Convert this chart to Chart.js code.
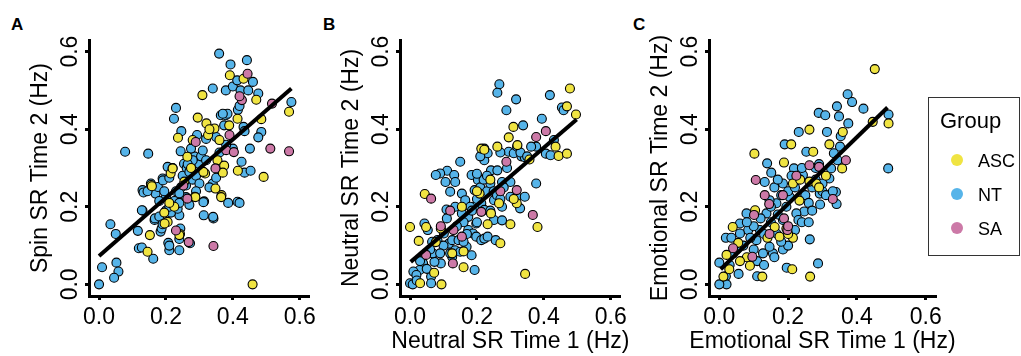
<!DOCTYPE html>
<html>
<head>
<meta charset="utf-8">
<script src="https://cdn.jsdelivr.net/npm/chart.js@4.4.1/dist/chart.umd.min.js"></script>
<style>
  body { margin: 0; background: #fff; width: 1021px; height: 356px; overflow: hidden; position: relative;
         font-family: "Liberation Sans", Arial, Helvetica, sans-serif; color: #000; }
  .panel { position: absolute; top: 0; height: 356px; }
  .tag { position: absolute; top: 16px; font-weight: bold; font-size: 17px; line-height: 17px; }
  #legend { position: absolute; left: 928px; top: 97px; width: 92px; height: 159px; border: 1px solid #333; box-sizing: border-box; }
  #legend .title { position: absolute; left: 11px; top: 10px; font-size: 22px; line-height: 26px; }
  #legend .item { position: absolute; left: 22px; font-size: 18px; line-height: 20px; white-space: nowrap; }
  #legend .dot { display: inline-block; width: 12px; height: 12px; border-radius: 50%; vertical-align: middle; margin-right: 15px; position: relative; top: -2px; }
</style>
</head>
<body>
<div class="tag" style="left:11px">A</div>
<div class="tag" style="left:323px">B</div>
<div class="tag" style="left:633px">C</div>
<div class="panel" style="left:0px"><canvas id="chartA" width="320" height="356"></canvas></div>
<div class="panel" style="left:311px"><canvas id="chartB" width="320" height="356"></canvas></div>
<div class="panel" style="left:620px"><canvas id="chartC" width="350" height="356"></canvas></div>
<div id="legend"></div>
<script>
// ---- groups ----
const groupNames = ['ASC', 'NT', 'SA'];
const groupColors = ['#F0E442', '#56B4E9', '#CC79A7'];
const tickValues = [0, 0.2, 0.4, 0.6];

// ---- panel A: spin SR, [time1, time2] ----
const spinASC = [[0.156,0.256],[0.152,0.127],[0.145,0.084],[0.205,0.161],[0.214,0.286],[0.236,0.378],[0.242,0.13],
  [0.295,0.43],[0.309,0.488],[0.321,0.415],[0.326,0.385],[0.345,0.402],[0.36,0.372],[0.354,0.32],[0.374,0.306],
  [0.37,0.288],[0.366,0.23],[0.348,0.247],[0.317,0.286],[0.286,0.226],[0.28,0.372],[0.391,0.539],[0.432,0.53],
  [0.47,0.476],[0.414,0.427],[0.485,0.426],[0.568,0.445],[0.415,0.293],[0.492,0.277],[0.459,0.0],[0.264,0.329],
  [0.22,0.299],[0.158,0.253],[0.225,0.2],[0.196,0.157],[0.24,0.127],[0.288,0.225],[0.365,0.225],[0.389,0.41],
  [0.33,0.4],[0.275,0.3],[0.255,0.265],[0.21,0.21],[0.195,0.185],[0.312,0.29]];
const spinNT = [[0.0,0.0],[0.009,0.044],[0.034,0.155],[0.05,0.13],[0.052,0.056],[0.058,0.033],[0.045,0.017],
  [0.078,0.342],[0.147,0.337],[0.116,0.138],[0.119,0.093],[0.13,0.19],[0.13,0.243],[0.133,0.237],[0.162,0.066],
  [0.166,0.166],[0.169,0.234],[0.176,0.251],[0.19,0.273],[0.205,0.303],[0.23,0.455],[0.224,0.427],[0.246,0.395],
  [0.24,0.088],[0.21,0.088],[0.207,0.107],[0.243,0.144],[0.24,0.178],[0.272,0.106],[0.184,0.136],[0.187,0.144],
  [0.191,0.268],[0.128,0.191],[0.167,0.17],[0.18,0.175],[0.2,0.19],[0.215,0.185],[0.19,0.155],[0.21,0.2],
  [0.225,0.215],[0.235,0.195],[0.2,0.225],[0.23,0.24],[0.245,0.25],[0.25,0.28],[0.26,0.255],[0.244,0.343],
  [0.254,0.311],[0.262,0.3],[0.27,0.29],[0.28,0.27],[0.29,0.28],[0.3,0.31],[0.293,0.385],[0.285,0.33],
  [0.305,0.33],[0.31,0.345],[0.32,0.32],[0.3,0.26],[0.29,0.24],[0.314,0.214],[0.313,0.178],[0.342,0.17],
  [0.312,0.212],[0.341,0.174],[0.34,0.26],[0.33,0.25],[0.35,0.275],[0.36,0.34],[0.359,0.595],[0.34,0.505],
  [0.379,0.5],[0.393,0.567],[0.4,0.51],[0.413,0.526],[0.423,0.5],[0.442,0.578],[0.446,0.5],[0.46,0.522],
  [0.476,0.492],[0.415,0.45],[0.42,0.46],[0.364,0.436],[0.379,0.436],[0.374,0.41],[0.384,0.44],[0.37,0.44],
  [0.432,0.406],[0.435,0.395],[0.485,0.393],[0.476,0.379],[0.451,0.35],[0.426,0.316],[0.435,0.288],[0.453,0.293],
  [0.386,0.21],[0.414,0.213],[0.42,0.21],[0.575,0.47],[0.4,0.35],[0.38,0.36],[0.35,0.38],[0.32,0.375],
  [0.22,0.3],[0.21,0.275],[0.155,0.26],[0.145,0.24],[0.18,0.215],[0.195,0.24],[0.24,0.21],[0.26,0.225],
  [0.27,0.205],[0.28,0.32],[0.275,0.35],[0.265,0.31],[0.24,0.235],[0.21,0.1],[0.24,0.117],[0.128,0.095]];
const spinSA = [[0.444,0.543],[0.427,0.475],[0.517,0.466],[0.512,0.35],[0.568,0.343],[0.39,0.385],[0.38,0.346],
  [0.403,0.341],[0.348,0.299],[0.342,0.099],[0.289,0.367],[0.264,0.221],[0.268,0.109],[0.23,0.139],[0.252,0.255],
  [0.42,0.485]];
const spinFit = [[0, 0.073], [0.575, 0.505]];

// ---- panel B: neutral SR ----
const neutralASC = [[0.478,0.505],[0.469,0.459],[0.496,0.438],[0.309,0.406],[0.295,0.379],[0.321,0.359],[0.435,0.355],
  [0.444,0.331],[0.469,0.337],[0.357,0.322],[0.261,0.355],[0.213,0.35],[0.222,0.347],[0.044,0.233],[0.0,0.148],
  [0.026,0.112],[0.048,0.148],[0.094,0.0],[0.16,0.044],[0.072,0.03],[0.27,0.106],[0.3,0.155],[0.319,0.209],
  [0.381,0.148],[0.344,0.027],[0.232,0.155],[0.242,0.183],[0.266,0.209],[0.208,0.234],[0.155,0.2],[0.092,0.144],
  [0.126,0.08],[0.077,0.109],[0.03,0.003],[0.24,0.27],[0.2,0.24],[0.31,0.22],[0.16,0.085]];
const neutralNT = [[0.267,0.516],[0.261,0.494],[0.317,0.477],[0.288,0.449],[0.418,0.488],[0.454,0.456],[0.459,0.449],
  [0.394,0.427],[0.338,0.41],[0.377,0.355],[0.362,0.355],[0.406,0.337],[0.42,0.333],[0.43,0.372],[0.295,0.342],
  [0.31,0.338],[0.333,0.33],[0.343,0.328],[0.32,0.355],[0.222,0.35],[0.222,0.32],[0.232,0.338],[0.15,0.316],
  [0.111,0.293],[0.09,0.286],[0.077,0.282],[0.132,0.282],[0.106,0.264],[0.135,0.264],[0.12,0.239],[0.155,0.234],
  [0.165,0.217],[0.184,0.282],[0.193,0.243],[0.203,0.269],[0.242,0.294],[0.261,0.294],[0.275,0.264],[0.3,0.264],
  [0.377,0.26],[0.3,0.226],[0.319,0.226],[0.343,0.226],[0.329,0.196],[0.109,0.193],[0.135,0.2],[0.155,0.183],
  [0.174,0.174],[0.193,0.2],[0.213,0.209],[0.222,0.192],[0.251,0.217],[0.275,0.2],[0.251,0.166],[0.198,0.157],
  [0.174,0.14],[0.188,0.131],[0.198,0.123],[0.213,0.114],[0.222,0.118],[0.232,0.123],[0.256,0.114],[0.275,0.165],
  [0.043,0.157],[0.053,0.14],[0.066,0.11],[0.082,0.114],[0.101,0.131],[0.116,0.105],[0.126,0.114],[0.145,0.114],
  [0.169,0.097],[0.184,0.075],[0.193,0.037],[0.092,0.054],[0.073,0.058],[0.068,0.08],[0.048,0.08],[0.039,0.054],
  [0.029,0.037],[0.01,0.033],[0.019,0.024],[0.063,0.02],[0.063,0.003],[0.0,0.003],[0.008,0.0],[0.126,0.071],
  [0.135,0.088],[0.15,0.084],[0.16,0.16],[0.18,0.2],[0.2,0.22],[0.21,0.25],[0.23,0.24],[0.24,0.26],[0.25,0.24],
  [0.22,0.27],[0.26,0.23],[0.28,0.25],[0.17,0.13],[0.14,0.15],[0.11,0.17],[0.1,0.1],[0.09,0.08],[0.12,0.08],
  [0.16,0.11],[0.2,0.16],[0.24,0.19],[0.27,0.22],[0.29,0.3],[0.33,0.34],[0.35,0.33],[0.06,0.09],[0.03,0.06],
  [0.02,0.01],[0.05,0.04],[0.27,0.34],[0.21,0.33],[0.2,0.285],[0.23,0.28],[0.185,0.19]];
const neutralSA = [[0.063,0.221],[0.288,0.316],[0.319,0.243],[0.377,0.38],[0.406,0.395],[0.367,0.179],[0.213,0.187],
  [0.155,0.123],[0.13,0.14],[0.128,0.054],[0.092,0.15],[0.048,0.076],[0.27,0.24],[0.12,0.19]];
const neutralFit = [[0.002, 0.058], [0.498, 0.425]];

// ---- panel C: emotional SR ----
const emotionalASC = [[0.452,0.555],[0.446,0.419],[0.492,0.415],[0.359,0.393],[0.262,0.399],[0.209,0.361],[0.102,0.337],
  [0.188,0.314],[0.32,0.361],[0.357,0.299],[0.273,0.342],[0.262,0.265],[0.282,0.26],[0.233,0.216],[0.214,0.26],
  [0.104,0.191],[0.039,0.148],[0.055,0.107],[0.021,0.076],[0.029,0.039],[0.089,0.048],[0.125,0.02],[0.264,0.02],
  [0.212,0.039],[0.214,0.12],[0.195,0.144],[0.175,0.123],[0.161,0.148],[0.012,0.02],[0.29,0.25],[0.235,0.27],
  [0.08,0.07],[0.14,0.12],[0.2,0.13],[0.06,0.06],[0.31,0.28]];
const emotionalNT = [[0.373,0.49],[0.386,0.47],[0.419,0.453],[0.492,0.438],[0.491,0.299],[0.342,0.459],[0.289,0.442],
  [0.308,0.436],[0.348,0.433],[0.375,0.415],[0.231,0.393],[0.313,0.393],[0.353,0.382],[0.19,0.361],[0.351,0.355],
  [0.333,0.338],[0.253,0.342],[0.139,0.312],[0.217,0.299],[0.151,0.288],[0.243,0.282],[0.325,0.299],[0.344,0.32],
  [0.32,0.273],[0.132,0.264],[0.185,0.26],[0.292,0.234],[0.339,0.238],[0.341,0.207],[0.293,0.206],[0.247,0.188],
  [0.224,0.183],[0.23,0.166],[0.079,0.183],[0.06,0.157],[0.084,0.14],[0.06,0.131],[0.019,0.12],[0.185,0.09],
  [0.263,0.116],[0.287,0.054],[0.196,0.043],[0.056,0.027],[0.11,0.021],[0.0,0.056],[0.019,0.021],[0.021,0.0],
  [0.0,0.0],[0.127,0.08],[0.156,0.08],[0.146,0.097],[0.108,0.114],[0.166,0.131],[0.185,0.166],[0.195,0.2],
  [0.205,0.225],[0.166,0.209],[0.146,0.217],[0.137,0.183],[0.118,0.14],[0.28,0.3],[0.29,0.31],[0.16,0.25],
  [0.17,0.27],[0.2,0.24],[0.22,0.25],[0.25,0.23],[0.26,0.21],[0.27,0.25],[0.3,0.24],[0.31,0.23],[0.33,0.24],
  [0.24,0.3],[0.21,0.28],[0.18,0.23],[0.15,0.2],[0.12,0.17],[0.1,0.15],[0.09,0.12],[0.07,0.1],[0.04,0.08],
  [0.03,0.05],[0.05,0.09],[0.11,0.06],[0.13,0.05],[0.16,0.07],[0.2,0.1],[0.22,0.14],[0.24,0.16],[0.1,0.09],
  [0.15,0.16],[0.035,0.12],[0.28,0.27],[0.3,0.26],[0.27,0.19],[0.17,0.18],[0.26,0.16],[0.18,0.11],[0.08,0.16],
  [0.13,0.13]];
const emotionalSA = [[0.106,0.269],[0.132,0.23],[0.145,0.207],[0.101,0.179],[0.188,0.17],[0.198,0.14],[0.146,0.13],
  [0.04,0.093],[0.096,0.071],[0.368,0.32],[0.262,0.307],[0.29,0.303],[0.224,0.28],[0.185,0.23],[0.2,0.15],[0.33,0.22]];
const emotionalFit = [[0.004, 0.039], [0.489, 0.456]];

const FONT = '"Liberation Sans", Arial, Helvetica, sans-serif';
const toXY = arr => arr.map(p => ({ x: p[0], y: p[1] }));

// axis titles drawn by hand so that long titles are not squeezed to the plot width
const axisTitles = {
  id: 'axisTitles',
  afterDraw(chart, args, opts) {
    const { ctx, chartArea } = chart;
    ctx.save();
    ctx.fillStyle = '#000';
    ctx.font = '23px ' + FONT;
    ctx.textAlign = 'center';
    ctx.textBaseline = 'alphabetic';
    if (opts.x) ctx.fillText(opts.x, (chartArea.left + chartArea.right) / 2, 348);
    if (opts.y) {
      ctx.translate(chartArea.left - 42, (chartArea.top + chartArea.bottom) / 2);
      ctx.rotate(-Math.PI / 2);
      ctx.fillText(opts.y, 0, 0);
    }
    ctx.restore();
  }
};

function axis(isX) {
  return {
    type: 'linear',
    min: -0.03,
    max: 0.63,
    afterBuildTicks: s => { s.ticks = tickValues.map(v => ({ value: v })); },
    afterFit: s => { if (isX) s.height = 60; else s.width = 89; },
    grid: { drawOnChartArea: false, drawTicks: true, tickLength: 4, tickWidth: 3, tickColor: '#000' },
    border: { display: true, color: '#000', width: 3 },
    ticks: {
      color: '#000',
      font: { family: FONT, size: 23 },
      padding: isX ? 4 : -2,
      minRotation: isX ? 0 : 90,
      maxRotation: isX ? 0 : 90,
      crossAlign: isX ? 'near' : 'center',
      callback: v => v.toFixed(1)
    }
  };
}

function makePanel(id, groups, fit, xTitle, yTitle, rightPad) {
  const datasets = [{
    type: 'line',
    data: toXY(fit),
    borderColor: '#000',
    borderWidth: 4,
    pointRadius: 0,
    order: 0,
    clip: false
  }];
  // NT underneath, then ASC, then SA
  [1, 0, 2].forEach((g, i) => {
    datasets.push({
      label: groupNames[g],
      data: toXY(groups[g]),
      backgroundColor: groupColors[g],
      borderColor: '#000',
      borderWidth: 1.1,
      pointRadius: 4.5,
      order: 3 - i,
      clip: false
    });
  });
  new Chart(document.getElementById(id), {
    type: 'scatter',
    data: { datasets },
    options: {
      responsive: false,
      animation: false,
      devicePixelRatio: 1,
      layout: { padding: { top: 40, right: rightPad, bottom: 0, left: 0 } },
      plugins: {
        legend: { display: false },
        tooltip: { enabled: false },
        axisTitles: { x: xTitle, y: yTitle }
      },
      scales: { x: axis(true), y: axis(false) }
    },
    plugins: [axisTitles]
  });
}

makePanel('chartA', [spinASC, spinNT, spinSA], spinFit, '', 'Spin SR Time 2 (Hz)', 4);
makePanel('chartB', [neutralASC, neutralNT, neutralSA], neutralFit, 'Neutral SR Time 1 (Hz)', 'Neutral SR Time 2 (Hz)', 4);
makePanel('chartC', [emotionalASC, emotionalNT, emotionalSA], emotionalFit, 'Emotional SR Time 1 (Hz)', 'Emotional SR Time 2 (Hz)', 34);

// legend
const legend = document.getElementById('legend');
legend.innerHTML = '<div class="title">Group</div>' + groupNames.map((n, i) =>
  `<div class="item" style="top:${53 + i * 34}px"><span class="dot" style="background:${groupColors[i]}"></span>${n}</div>`
).join('');
</script>
</body>
</html>
